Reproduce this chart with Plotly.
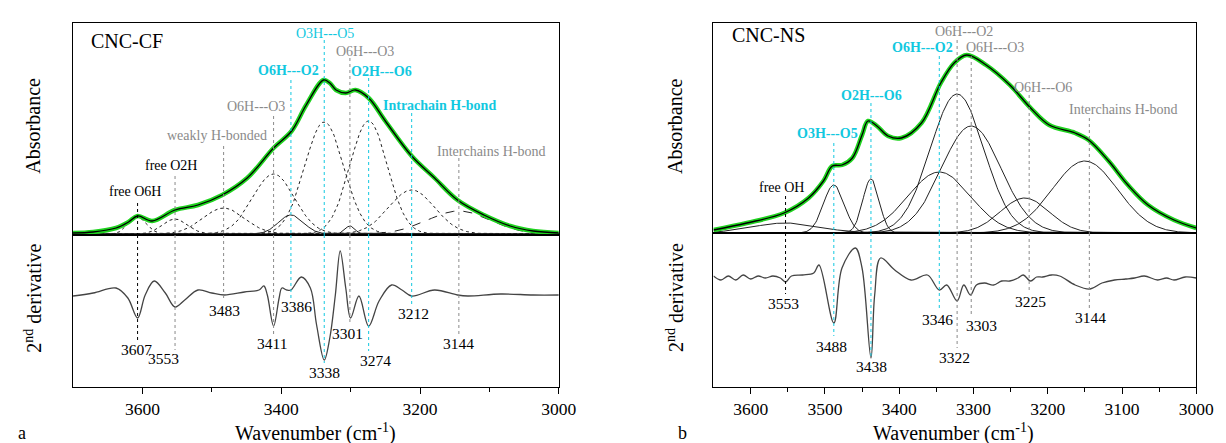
import numpy as np
import plotly.graph_objects as go

W, H = 1226, 443
FONT = "Liberation Serif, Times New Roman, serif"
CYAN = "#12c8e0"
GREY = "#8a8a8a"
GREEN = "#1fd31f"

# ---------------- Panel a (CNC-CF) ----------------
a_total_wn = [3700, 3671, 3638, 3620, 3607, 3586, 3553, 3520, 3485, 3449, 3411, 3385, 3364,
              3339, 3330, 3321, 3307, 3293, 3274, 3250, 3212, 3179, 3146, 3108, 3070, 3037, 3000]
a_total_abs = [1, 2, 6, 12, 18, 13, 24, 29, 39, 56, 86, 103, 129,
               154, 151, 144, 141, 144, 136, 113, 78, 56, 34, 19, 8, 3, 1]

a_comp_center = [3607, 3553, 3483, 3411, 3386, 3338, 3301, 3274, 3212, 3144]
a_comp_height = [17, 15, 26, 60, 19, 112, 8, 113, 44, 23]
a_comp_width = [13, 18, 30, 30, 18, 28, 7, 27, 33, 45]
a_comp_dash = ["dot", "dot", "dot", "dot", "solid", "dot", "solid", "dot", "dot", "dash"]

a_der_wn = [3700, 3671, 3638, 3621, 3607, 3596, 3583, 3567, 3553, 3539, 3520, 3500, 3482, 3453,
            3432, 3425, 3420, 3411, 3403, 3399, 3392, 3386, 3371, 3358, 3349, 3338, 3330, 3322,
            3315, 3307, 3300, 3288, 3274, 3259, 3241, 3226, 3212, 3179, 3146, 3131, 3084, 3037, 3000]
a_der_val = [0, 3, 8, -2, -22, 1, 15, 3, -11, -4, 6, 3, 1, 4,
             6, 10, 1, -30, -2, 8, 6, 6, 19, 8, -29, -64, -42, 1,
             45, 8, -22, 0, -30, -5, 11, 6, 0, 6, 1, 0, 2, 1, 1]

a_lab_text = ["free O6H", "free O2H", "weakly H-bonded", "O6H---O3", "O6H---O2", "O3H---O5",
              "O6H---O3", "O2H---O6", "Intrachain H-bond", "Interchains H-bond"]
a_lab_wn = [3610, 3559, 3493, 3436, 3390, 3337, 3279, 3255, 3172, 3097]
a_lab_y = [43, 69, 99, 128, 164, 201, 183, 163, 129, 83]
a_lab_col = ["black", "black", GREY, GREY, CYAN, CYAN, GREY, CYAN, CYAN, GREY]
a_lab_bold = [False, False, False, False, True, False, False, True, True, False]

a_pk_wn = [3607, 3553, 3483, 3411, 3386, 3338, 3301, 3274, 3212, 3144]
a_pk_lab_wn = [3608, 3570, 3482, 3414, 3378, 3337, 3304, 3264, 3209, 3144]
a_pk_lab_y = [-53, -62, -14, -47, -10, -76, -37, -64, -17, -47]
a_line_top = [31, 58, 88, 118, 154, 194, 176, 156, 121, 76]
a_line_bot = [-47, -54, -5, -38, -2, -67, -29, -55, -8, -38]
a_line_col = ["black", GREY, GREY, GREY, CYAN, CYAN, GREY, CYAN, CYAN, GREY]

# ---------------- Panel b (CNC-NS) ----------------
b_total_wn = [3650, 3605, 3555, 3522, 3502, 3490, 3477, 3463, 3450, 3442, 3430, 3415, 3397, 3370,
              3344, 3326, 3309, 3283, 3251, 3223, 3198, 3163, 3145, 3118, 3092, 3065, 3030, 3000]
b_total_abs = [3, 10, 20, 35, 52, 67, 68, 75, 98, 112, 107, 97, 95, 110,
               150, 170, 178, 168, 148, 125, 108, 100, 93, 72, 48, 28, 13, 5]

b_comp_center = [3553, 3488, 3438, 3346, 3322, 3303, 3231, 3150]
b_comp_height = [10, 48, 54, 61, 139, 107, 35, 72]
b_comp_width = [45, 14, 11, 42, 36, 40, 33, 44]

b_der_wn = [3650, 3640, 3630, 3620, 3610, 3600, 3590, 3580, 3570, 3560, 3553, 3545, 3530, 3515,
            3508, 3488, 3477, 3459, 3450, 3438, 3433, 3425, 3406, 3384, 3362, 3346, 3336, 3322,
            3313, 3304, 3296, 3285, 3273, 3262, 3251, 3240, 3233, 3223, 3215, 3207, 3195, 3184,
            3163, 3143, 3127, 3110, 3095, 3083, 3070, 3052, 3040, 3030, 3015, 3000]
b_der_val = [2, -2, 2, -2, 3, -1, 2, 0, 2, 0, -4, 2, 3, 5,
             13, -45, 10, 30, 10, -80, -17, 20, 8, -2, 3, -12, -7, -23,
             -7, -17, -7, -5, -7, -3, -3, 0, 3, -3, 1, 1, 3, 2,
             -7, -11, -5, -2, -1, 0, 2, -2, 0, -2, 1, 0]

b_lab_text = ["free OH", "O3H---O5", "O2H---O6", "O6H---O2", "O6H---O2", "O6H---O3",
              "O6H---O6", "Interchains H-bond"]
b_lab_wn = [3559, 3496, 3437, 3369, 3313, 3271, 3207, 3098]
b_lab_y = [46, 100, 138, 186, 202, 186, 146, 124]
b_lab_col = ["black", CYAN, CYAN, CYAN, GREY, GREY, GREY, GREY]
b_lab_bold = [False, True, True, True, False, False, False, False]

b_pk_wn = [3553, 3488, 3438, 3346, 3322, 3303, 3225, 3144]
b_pk_lab_wn = [3556, 3491, 3437, 3349, 3326, 3289, 3223, 3143]
b_pk_lab_y = [-25, -68, -88, -41, -79, -47, -23, -39]
b_line_top = [37, 90, 130, 177, 193, 177, 138, 115]
b_line_bot = [-16, -58, -78, -32, -70, -38, -14, -30]
b_line_col = ["black", CYAN, CYAN, CYAN, GREY, GREY, GREY, GREY]

# axis ranges (arbitrary units)
a_xr = [3700, 3000]
b_xr = [3650, 3000]
a_top_r = [-1, 211]
a_bot_r = [-91, 61]
b_top_r = [0, 210]
b_bot_r = [-109, 45]

fig = go.Figure()


def px(x):
    return x / W


def py(y):
    return 1 - y / H


def add_panel(xa, ya_top, ya_bot, total_wn, total_abs, cc, ch, cw, dashes, comp_col,
              der_wn, der_val, xr):
    grid = np.linspace(xr[1], xr[0], 600)
    for c, h, w, d in zip(cc, ch, cw, dashes):
        fig.add_trace(go.Scatter(x=grid, y=h * np.exp(-(grid - c) ** 2 / (2 * w ** 2)),
                                 mode="lines", line=dict(color=comp_col, width=1, dash=d),
                                 xaxis=xa[0], yaxis=ya_top, showlegend=False, hoverinfo="skip"))
    fig.add_trace(go.Scatter(x=total_wn, y=total_abs, mode="lines", line_shape="spline",
                             line=dict(color=GREEN, width=4.5), xaxis=xa[0], yaxis=ya_top,
                             showlegend=False))
    fig.add_trace(go.Scatter(x=total_wn, y=total_abs, mode="lines", line_shape="spline",
                             line=dict(color="black", width=1.3), xaxis=xa[0], yaxis=ya_top,
                             showlegend=False))
    fig.add_trace(go.Scatter(x=der_wn, y=der_val, mode="lines", line_shape="spline",
                             line=dict(color="#444444", width=1.3), xaxis=xa[1], yaxis=ya_bot,
                             showlegend=False))


add_panel(("x", "x2"), "y", "y2", a_total_wn, a_total_abs, a_comp_center, a_comp_height,
          a_comp_width, a_comp_dash, "#222222", a_der_wn, a_der_val, a_xr)
add_panel(("x3", "x4"), "y3", "y4", b_total_wn, b_total_abs, b_comp_center, b_comp_height,
          b_comp_width, ["solid"] * len(b_comp_center), "#222222", b_der_wn, b_der_val, b_xr)

ann = []
shapes = []


def add_labels(xr_top, xr_bot, yr_top, yr_bot, texts, lwn, ly, lcol, lbold,
               pk, pk_wn, pk_y, ltop, lbot, lcol2):
    for t, x, y, c, b in zip(texts, lwn, ly, lcol, lbold):
        ann.append(dict(x=x, y=y, xref=xr_top, yref=yr_top, text=f"<b>{t}</b>" if b else t,
                        showarrow=False, xanchor="center", yanchor="middle",
                        font=dict(family=FONT, size=14, color=c)))
    for p, x, y in zip(pk, pk_wn, pk_y):
        ann.append(dict(x=x, y=y, xref=xr_bot, yref=yr_bot, text=str(p), showarrow=False,
                        xanchor="center", yanchor="middle",
                        font=dict(family=FONT, size=15.5, color="black")))
    rt = a_top_r if yr_top == "y" else b_top_r
    rb = a_bot_r if yr_bot == "y2" else b_bot_r
    for p, t, bt, c in zip(pk, ltop, lbot, lcol2):
        shapes.append(dict(type="line", xref=xr_top, yref=yr_top, x0=p, x1=p, y0=t, y1=rt[0],
                           line=dict(color=c, width=1, dash="dot")))
        shapes.append(dict(type="line", xref=xr_bot, yref=yr_bot, x0=p, x1=p, y0=rb[1], y1=bt,
                           line=dict(color=c, width=1, dash="dot")))


add_labels("x", "x2", "y", "y2", a_lab_text, a_lab_wn, a_lab_y, a_lab_col, a_lab_bold,
           a_pk_wn, a_pk_lab_wn, a_pk_lab_y, a_line_top, a_line_bot, a_line_col)
add_labels("x3", "x4", "y3", "y4", b_lab_text, b_lab_wn, b_lab_y, b_lab_col, b_lab_bold,
           b_pk_wn, b_pk_lab_wn, b_pk_lab_y, b_line_top, b_line_bot, b_line_col)

ann.append(dict(x=3677, y=193, xref="x", yref="y", xanchor="left", yanchor="middle",
                text="CNC-CF", showarrow=False, font=dict(family=FONT, size=20, color="black")))
ann.append(dict(x=3628, y=198, xref="x3", yref="y3", xanchor="left", yanchor="middle",
                text="CNC-NS", showarrow=False, font=dict(family=FONT, size=20, color="black")))

# axis titles and panel letters
for xp, txt, yp in [(25, "Absorbance", 118), (25, "2<sup>nd</sup> derivative", 290),
                    (677, "Absorbance", 118), (677, "2<sup>nd</sup> derivative", 290)]:
    ann.append(dict(x=px(xp), y=py(yp), xref="paper", yref="paper", text=txt, textangle=-90,
                    xanchor="center", yanchor="middle", showarrow=False,
                    font=dict(family=FONT, size=20, color="black")))
for xp, txt in [(312, "Wavenumber (cm<sup>-1</sup>)"), (960, "Wavenumber (cm<sup>-1</sup>)")]:
    ann.append(dict(x=px(xp), y=py(424), xref="paper", yref="paper", text=txt, showarrow=False,
                    xanchor="center", yanchor="middle",
                    font=dict(family=FONT, size=20, color="black")))
ann.append(dict(x=px(14), y=py(425), xref="paper", yref="paper", text="a", showarrow=False,
                xanchor="center", yanchor="middle", font=dict(family=FONT, size=18, color="black")))
ann.append(dict(x=px(685), y=py(425), xref="paper", yref="paper", text="b", showarrow=False,
                xanchor="center", yanchor="middle", font=dict(family=FONT, size=18, color="black")))

frame = dict(showline=True, linecolor="black", linewidth=1.3, mirror=True, showgrid=False,
             zeroline=False)
top_x = dict(frame, showticklabels=False, ticks="")
a_dom = [px(66), px(559)]
b_dom = [px(716), px(1206)]

fig.update_layout(
    width=W, height=H, margin=dict(l=0, r=0, t=0, b=0),
    paper_bgcolor="white", plot_bgcolor="white",
    font=dict(family=FONT, color="black"),
    xaxis=dict(top_x, domain=a_dom, range=a_xr, anchor="y"),
    yaxis=dict(frame, domain=[py(227), py(15)], range=a_top_r, showticklabels=False, ticks="",
               anchor="x"),
    xaxis2=dict(frame, domain=a_dom, range=a_xr, anchor="y2", ticks="outside", ticklen=6,
                tickcolor="black", tickvals=[3600, 3400, 3200, 3000],
                minor=dict(tickvals=[3500, 3300, 3100], ticks="outside", ticklen=4,
                           tickcolor="black"),
                tickfont=dict(family=FONT, size=17.5, color="black")),
    yaxis2=dict(frame, domain=[py(379), py(227)], range=a_bot_r, showticklabels=False, ticks="",
                anchor="x2"),
    xaxis3=dict(top_x, domain=b_dom, range=b_xr, anchor="y3"),
    yaxis3=dict(frame, domain=[py(225), py(15)], range=b_top_r, showticklabels=False, ticks="",
                anchor="x3"),
    xaxis4=dict(frame, domain=b_dom, range=b_xr, anchor="y4", ticks="outside", ticklen=6,
                tickcolor="black", tickvals=[3600, 3500, 3400, 3300, 3200, 3100, 3000],
                minor=dict(tickvals=[3550, 3450, 3350, 3250, 3150, 3050], ticks="outside",
                           ticklen=4, tickcolor="black"),
                tickfont=dict(family=FONT, size=17.5, color="black")),
    yaxis4=dict(frame, domain=[py(379), py(225)], range=b_bot_r, showticklabels=False, ticks="",
                anchor="x4"),
    annotations=ann, shapes=shapes,
)

fig.write_html("out.html")
